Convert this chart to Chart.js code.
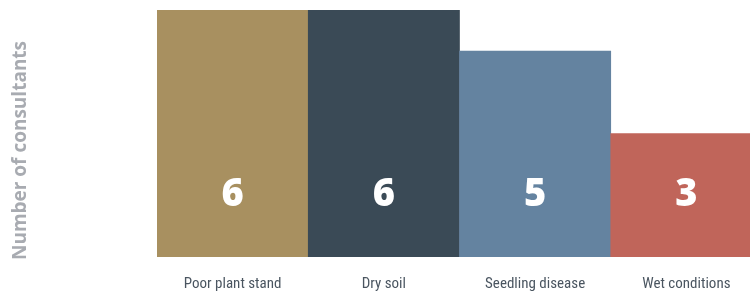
<!DOCTYPE html>
<html>
<head>
<meta charset="utf-8">
<script src="https://cdn.jsdelivr.net/npm/chart.js@4/dist/chart.umd.min.js"></script>
<style>
  html, body { margin: 0; padding: 0; background: #fff; overflow: hidden; }
  #wrap { width: 762px; height: 291px; }
</style>
</head>
<body>
<div id="wrap"><canvas id="chart" width="762" height="291"></canvas></div>
<script>
const categories = ['Poor plant stand', 'Dry soil', 'Seedling disease', 'Wet conditions'];
const consultants = [6, 6, 5, 3];
const barColors = ['#a89060', '#3a4a56', '#6483a0', '#c0655a'];
const yTitle = 'Number of consultants';

// white value numbers sitting near the bottom of each bar
const valueLabels = {
  id: 'valueLabels',
  afterDatasetsDraw(chart) {
    const { ctx, scales: { y } } = chart;
    const meta = chart.getDatasetMeta(0);
    ctx.save();
    ctx.fillStyle = '#ffffff';
    ctx.font = '800 38px "Open Sans", sans-serif';
    ctx.textAlign = 'center';
    ctx.textBaseline = 'middle';
    meta.data.forEach((bar, i) => {
      ctx.fillText(String(consultants[i]), bar.x, y.getPixelForValue(1.5));
    });
    ctx.restore();
  }
};

// rotated axis title centred on the canvas height
const sideTitle = {
  id: 'sideTitle',
  afterDraw(chart) {
    const { ctx } = chart;
    ctx.save();
    ctx.translate(21, chart.height / 2 + 5);
    ctx.rotate(-Math.PI / 2);
    ctx.fillStyle = '#a8abb1';
    ctx.font = 'bold 19px "Open Sans", sans-serif';
    ctx.textAlign = 'center';
    ctx.textBaseline = 'middle';
    ctx.fillText(yTitle, 0, 0);
    ctx.restore();
  }
};

new Chart(document.getElementById('chart').getContext('2d'), {
  type: 'bar',
  data: {
    labels: categories,
    datasets: [{
      data: consultants,
      backgroundColor: barColors,
      borderWidth: 0,
      barPercentage: 1,
      categoryPercentage: 1
    }]
  },
  options: {
    responsive: false,
    animation: false,
    layout: { padding: { left: 157, top: 10, right: 0, bottom: 0 } },
    plugins: { legend: { display: false }, tooltip: { enabled: false } },
    scales: {
      x: {
        grid: { display: false },
        border: { display: false },
        ticks: {
          color: '#4a5560',
          font: { family: '"Liberation Sans Narrow", "Roboto Condensed", sans-serif', size: 15 },
          padding: 10,
          maxRotation: 0
        },
        afterFit(s) { s.height = 34; }
      },
      y: {
        display: false,
        min: 0,
        max: 6
      }
    }
  },
  plugins: [valueLabels, sideTitle]
});
</script>
</body>
</html>
